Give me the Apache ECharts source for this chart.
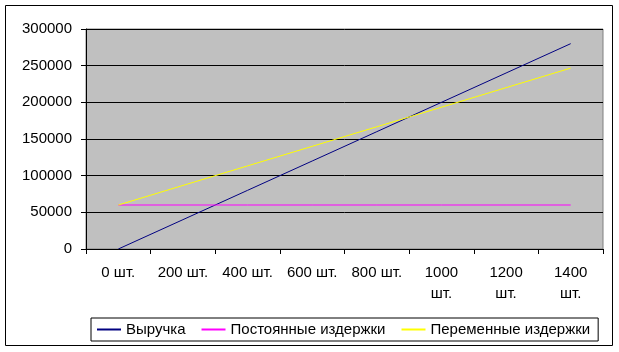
<!DOCTYPE html>
<html><head><meta charset="utf-8">
<script src="https://cdn.jsdelivr.net/npm/echarts@6/dist/echarts.min.js"></script>
<style>html,body{margin:0;padding:0;background:#fff;}#c{width:619px;height:352px;}</style>
</head><body><div id="c"></div>
<script>
var categories = ['0 шт.', '200 шт.', '400 шт.', '600 шт.', '800 шт.', '1000 шт.', '1200 шт.', '1400 шт.'];
var revenue = [0, 40000, 80000, 120000, 160000, 200000, 240000, 280000];
var fixedCosts = [60000, 60000, 60000, 60000, 60000, 60000, 60000, 60000];
var variableCosts = [60000, 86667, 113333, 140000, 166667, 193333, 220000, 246667];
var seriesNames = ['Выручка', 'Постоянные издержки', 'Переменные издержки'];

var font = 'Arial, "Liberation Sans", sans-serif';
var chart = echarts.init(document.getElementById('c'), null, {renderer: 'canvas'});
chart.setOption({
  animation: false,
  backgroundColor: '#fff',
  graphic: [{type: 'rect', shape: {x: 5.5, y: 5.5, width: 607, height: 340}, style: {fill: 'none', stroke: '#000', lineWidth: 1}, z: -10, silent: true}],
  grid: {left: 86, top: 29, right: 16, bottom: 103, show: true, backgroundColor: '#C0C0C0', borderColor: '#808080', borderWidth: 1},
  legend: {
    bottom: 11, left: 91,
    borderColor: '#000', borderWidth: 1, padding: [4, 8, 4, 6],
    itemWidth: 24, itemHeight: 2, itemGap: 16,
    icon: 'rect',
    textStyle: {fontFamily: font, fontSize: 15, color: '#000'},
    data: seriesNames
  },
  xAxis: {
    type: 'category', data: categories, boundaryGap: true,
    axisLine: {show: true, lineStyle: {color: '#000', width: 1}},
    axisTick: {show: true, length: 5, alignWithLabel: false, lineStyle: {color: '#000'}},
    axisLabel: {
      margin: 13, interval: 0, fontFamily: font, fontSize: 15, color: '#000', lineHeight: 21,
      formatter: function (v) { return v.length > 7 ? v.replace(' ', '\n') : v; }
    },
    splitLine: {show: false}
  },
  yAxis: {
    type: 'value', min: 0, max: 300000, interval: 50000,
    axisLine: {show: true, lineStyle: {color: '#000', width: 1}},
    axisTick: {show: true, length: 5, lineStyle: {color: '#000'}},
    axisLabel: {margin: 14, fontFamily: font, fontSize: 15, color: '#000', formatter: function (v) { return String(v); }},
    splitLine: {show: true, lineStyle: {color: '#000', width: 1}}
  },
  series: [
    {name: seriesNames[0], type: 'line', data: revenue, symbol: 'none', lineStyle: {color: '#000080', width: 1}, itemStyle: {color: '#000080'}},
    {name: seriesNames[1], type: 'line', data: fixedCosts, symbol: 'none', lineStyle: {color: '#FF00FF', width: 1}, itemStyle: {color: '#FF00FF'}},
    {name: seriesNames[2], type: 'line', data: variableCosts, symbol: 'none', lineStyle: {color: '#FFFF00', width: 1}, itemStyle: {color: '#FFFF00'}}
  ]
});
</script></body></html>
